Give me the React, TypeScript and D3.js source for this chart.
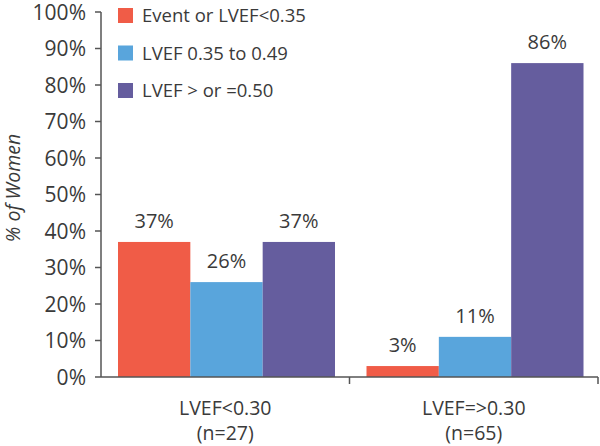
import React from "react";
import * as d3 from "d3";

const categories = ["LVEF<0.30", "LVEF=>0.30"];
const categorySub = ["(n=27)", "(n=65)"];
const seriesNames = ["Event or LVEF<0.35", "LVEF 0.35 to 0.49", "LVEF > or =0.50"];
const seriesColors = ["#F05C47", "#59A5DC", "#655D9E"];
const valuesEvent = [37, 3];
const valuesMid = [26, 11];
const valuesHigh = [37, 86];
const yTicks = [0, 10, 20, 30, 40, 50, 60, 70, 80, 90, 100];

const W = 600;
const H = 446;
const margin = { left: 101, right: 2, top: 12, bottom: 69 };
const textColor = "#3a3a3a";
const axisColor = "#555";
const font = "'Open Sans', 'Noto Sans', sans-serif";

export default function App() {
  const series = [valuesEvent, valuesMid, valuesHigh];
  const x0 = d3
    .scaleBand<string>()
    .domain(categories)
    .range([margin.left, W - margin.right])
    .paddingInner(0)
    .paddingOuter(0);
  const x1 = d3
    .scaleBand<number>()
    .domain([0, 1, 2])
    .range([17, 234])
    .paddingOuter(0)
    .paddingInner(0);
  const y = d3.scaleLinear().domain([0, 100]).range([H - margin.bottom, margin.top]);
  const baseY = y(0);

  return (
    <svg
      width={W}
      height={H}
      style={{ position: "absolute", left: 0, top: 0, background: "#fff" }}
      fontFamily={font}
    >
      {/* bars */}
      {categories.map((c, ci) =>
        series.map((vals, si) => (
          <rect
            key={c + si}
            x={(x0(c) as number) + (x1(si) as number)}
            y={y(vals[ci])}
            width={x1.bandwidth()}
            height={baseY - y(vals[ci])}
            fill={seriesColors[si]}
          />
        ))
      )}
      {/* value labels */}
      {categories.map((c, ci) =>
        series.map((vals, si) => (
          <text
            key={"l" + c + si}
            x={(x0(c) as number) + (x1(si) as number) + x1.bandwidth() / 2}
            y={y(vals[ci]) - 14}
            textAnchor="middle"
            fontSize={20}
            fill={textColor}
          >
            {vals[ci]}%
          </text>
        ))
      )}
      {/* y axis */}
      <line x1={margin.left} x2={margin.left} y1={y(100)} y2={baseY} stroke={axisColor} strokeWidth={1.5} />
      {yTicks.map((t) => (
        <g key={t}>
          <line x1={margin.left - 6} x2={margin.left} y1={y(t)} y2={y(t)} stroke={axisColor} strokeWidth={1.5} />
          <text
            x={margin.left - 15}
            y={y(t)}
            dy="0.36em"
            textAnchor="end"
            fontSize={21}
            fill={textColor}
          >
            {t}%
          </text>
        </g>
      ))}
      {/* x axis */}
      <line x1={margin.left} x2={W - margin.right} y1={baseY} y2={baseY} stroke={axisColor} strokeWidth={1.5} />
      {categories.map((c) => (
        <line
          key={"xt" + c}
          x1={(x0(c) as number) + x0.bandwidth()}
          x2={(x0(c) as number) + x0.bandwidth()}
          y1={baseY}
          y2={baseY + 7}
          stroke={axisColor}
          strokeWidth={1.5}
        />
      ))}
      {categories.map((c, i) => (
        <g key={"xl" + c}>
          <text
            x={(x0(c) as number) + x0.bandwidth() / 2}
            y={415}
            textAnchor="middle"
            fontSize={19.5}
            fill={textColor}
          >
            {c}
          </text>
          <text
            x={(x0(c) as number) + x0.bandwidth() / 2}
            y={440}
            textAnchor="middle"
            fontSize={19.5}
            fill={textColor}
          >
            {categorySub[i]}
          </text>
        </g>
      ))}
      {/* y title */}
      <text
        transform={`translate(13, 188) rotate(-90)`}
        textAnchor="middle"
        dy="0.35em"
        fontSize={19.5}
        fontStyle="italic"
        fill={textColor}
      >
        % of Women
      </text>
      {/* legend */}
      {seriesNames.map((n, i) => (
        <g key={n} transform={`translate(118, ${15.5 + i * 37.5})`}>
          <rect x={0} y={-7.5} width={15} height={15} fill={seriesColors[i]} />
          <text x={24} y={0} dy="0.36em" fontSize={18.5} fill={textColor}>
            {n}
          </text>
        </g>
      ))}
    </svg>
  );
}
